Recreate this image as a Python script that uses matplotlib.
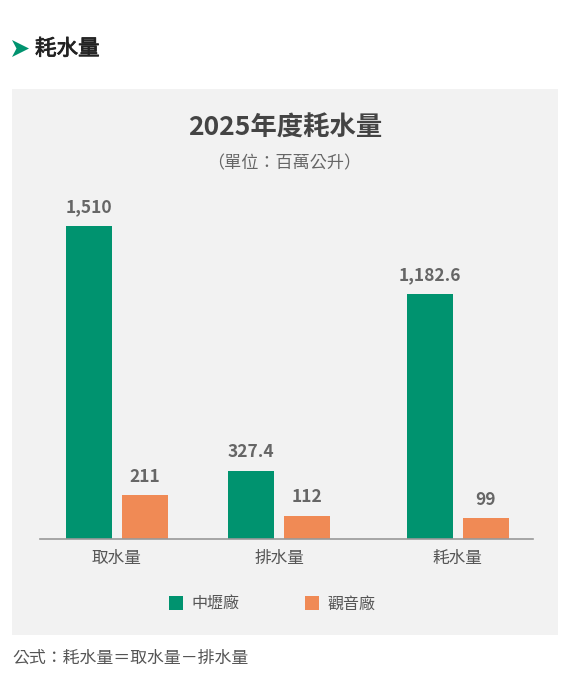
import matplotlib
matplotlib.use('Agg')
import matplotlib.pyplot as plt
import matplotlib.patheffects as pe
from matplotlib.patches import Rectangle, Polygon

plt.rcParams['font.family'] = ['Noto Sans CJK TC', 'DejaVu Sans']

categories = ['取水量', '排水量', '耗水量']
series_names = ['中壢廠', '觀音廠']
zhongli = [1510, 327.4, 1182.6]
guanyin = [211, 112, 99]
value_labels = [['1,510', '327.4', '1,182.6'], ['211', '112', '99']]
colors = ['#00936F', '#F08A55']

W, H = 572, 675
fig = plt.figure(figsize=(W / 100, H / 100), dpi=100)
fig.patch.set_facecolor('white')


def fx(px):
    return px / W


def fy(py):
    return 1 - py / H


# grey panel
fig.patches.append(Rectangle((fx(12), fy(635)), fx(558) - fx(12), fy(89) - fy(635),
                             transform=fig.transFigure, facecolor='#F2F2F2',
                             edgecolor='none', zorder=0))

# header with arrow
fig.patches.append(Polygon([(fx(12), fy(40)), (fx(29), fy(48.5)), (fx(12), fy(57)), (fx(16.5), fy(48.5))],
                           closed=True, transform=fig.transFigure, facecolor='#00936F',
                           edgecolor='none'))
fig.text(fx(35), fy(49), '耗水量', fontsize=15.5, color='#222222', ha='left', va='center',
         path_effects=[pe.withStroke(linewidth=0.6, foreground='#222222')])

fig.text(fx(285), fy(128), '2025年度耗水量', fontsize=19, fontweight='bold', color='#444444',
         ha='center', va='center')
fig.text(fx(284), fy(163), '（單位：百萬公升）', fontsize=12.3, color='#666666',
         ha='center', va='center')

# chart axes
ax = fig.add_axes([fx(40), fy(539), fx(533) - fx(40), fy(150) - fy(539)], zorder=2)
ax.set_facecolor('none')
unit = 162.5
pos = [0, 1, 2.1]
width = 46 / unit
off = 28 / unit

bars = []
for i, vals in enumerate([zhongli, guanyin]):
    xs = [p + (-off if i == 0 else off) for p in pos]
    b = ax.bar(xs, vals, width=width, color=colors[i], label=series_names[i], zorder=2)
    bars.append(b)
    for rect, lab in zip(b, value_labels[i]):
        ax.annotate(lab, (rect.get_x() + rect.get_width() / 2, rect.get_height()),
                    xytext=(0, 7), textcoords='offset points', ha='center', va='bottom',
                    fontsize=12.5, fontweight='bold', color='#666666')

ax.set_xlim((40 - 116.5) / unit, (533 - 116.5) / unit)
ax.set_ylim(0, 389 / 0.2073)
ax.set_xticks(pos)
ax.set_xticklabels(categories, fontsize=12, color='#555555')
ax.tick_params(axis='x', length=0, pad=8)
ax.set_yticks([])
for s in ['top', 'right', 'left']:
    ax.spines[s].set_visible(False)
ax.spines['bottom'].set_color('#999999')
ax.spines['bottom'].set_linewidth(1.2)

# legend
leg = fig.legend(handles=bars, labels=series_names, loc='center',
                 bbox_to_anchor=(fx(272), fy(604)), ncol=2, frameon=False,
                 fontsize=11.5, handlelength=0.9, handleheight=0.9,
                 handletextpad=0.5, columnspacing=4.1)
for t in leg.get_texts():
    t.set_color('#555555')

fig.text(fx(12), fy(658), '公式：耗水量＝取水量－排水量', fontsize=12.2, color='#555555',
         ha='left', va='center')

fig.savefig('out.png', dpi=100, facecolor='white')
